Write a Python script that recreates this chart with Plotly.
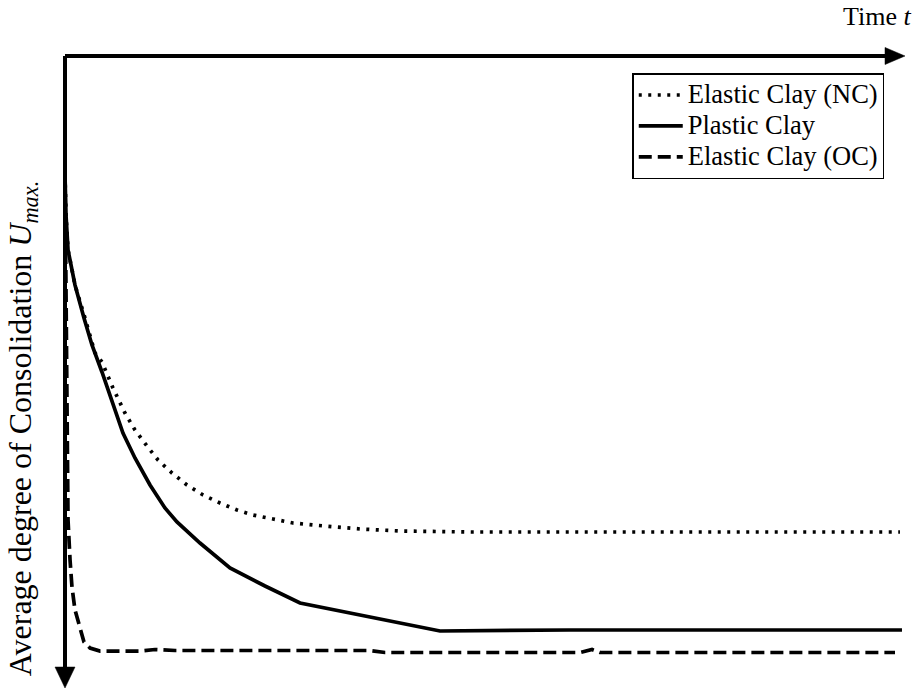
import plotly.graph_objects as go

# Time (arbitrary units, 0-100) and degree of consolidation (arbitrary units, increasing downward)
plastic_t = [0, 0.12, 0.36, 1.19, 2.26, 3.21, 4.40, 5.71, 6.90, 8.33, 10.12, 11.90, 13.33,
             16.07, 19.64, 23.81, 27.98, 36.31, 44.64, 60.0, 80.0, 99.64]
plastic_u = [18.83, 25.16, 30.70, 36.23, 41.46, 45.73, 50.0, 55.22, 59.65, 63.61, 67.88, 71.52, 73.73,
             77.06, 81.01, 83.86, 86.55, 88.77, 90.98, 90.82, 90.82, 90.82]

nc_t = [0, 0.12, 0.36, 1.19, 2.38, 3.57, 4.40, 5.71, 7.14, 8.33, 9.76, 11.07, 12.74, 14.52,
        16.43, 18.45, 20.48, 22.38, 24.76, 27.14, 29.52, 31.90, 35.12, 39.88, 48.57, 70.0, 99.40]
nc_u = [18.83, 25.16, 30.70, 36.23, 41.46, 46.99, 48.42, 52.53, 56.49, 59.18, 61.71, 63.92, 65.98, 67.88,
        69.46, 70.73, 71.84, 72.63, 73.26, 73.89, 74.21, 74.53, 74.84, 75.16, 75.32, 75.32, 75.32]

oc_t = [0, 0.12, 0.24, 0.36, 0.60, 0.83, 1.19, 1.79, 2.26, 2.98, 4.17, 8.93, 10.71, 13.10,
        36.31, 38.10, 61.31, 62.74, 63.69, 98.81]
oc_u = [18.83, 38.61, 62.34, 73.42, 79.75, 84.02, 87.66, 90.82, 92.72, 93.67, 94.15, 94.15, 93.91, 94.07,
        94.07, 94.38, 94.38, 93.91, 94.38, 94.38]

series_names = ["Elastic Clay (NC)", "Plastic Clay", "Elastic Clay (OC)"]
x_title = "Time <i>t</i>"
y_title = "Average degree of Consolidation <i>U</i><sub><i>max.</i></sub>"

FONT = "Liberation Serif, Times New Roman, serif"
LW = 3.7


def big(s):
    return "<span style='font-size:26.5px'>" + s + "</span>"


fig = go.Figure()
fig.add_trace(go.Scatter(x=nc_t, y=nc_u, mode="lines", name=big(series_names[0]),
                         line=dict(color="black", width=LW, dash="3px,6.5px")))
fig.add_trace(go.Scatter(x=plastic_t, y=plastic_u, mode="lines", name=big(series_names[1]),
                         line=dict(color="black", width=LW)))
fig.add_trace(go.Scatter(x=oc_t, y=oc_u, mode="lines", name=big(series_names[2]),
                         line=dict(color="black", width=LW, dash="13px,6px")))

# axis arrows (drawn in data space)
ax_style = dict(color="black", width=4)
fig.add_shape(type="line", x0=0, y0=0, x1=97.62, y1=0, line=ax_style, layer="above")
fig.add_shape(type="path", path="M 97.62 -1.35 L 100 0 L 97.62 1.35 Z",
              fillcolor="black", line=dict(color="black", width=0.5), layer="above")
fig.add_shape(type="line", x0=0, y0=0, x1=0, y1=96.68, line=ax_style, layer="above")
fig.add_shape(type="path", path="M -1.19 96.68 L 0 100 L 1.19 96.68 Z",
              fillcolor="black", line=dict(color="black", width=0.5), layer="above")

fig.add_annotation(text=x_title, xref="paper", yref="paper", x=1.0094, y=1.0355,
                   xanchor="right", yanchor="middle", showarrow=False,
                   font=dict(family=FONT, size=26, color="black"))
fig.add_annotation(text=y_title, xref="paper", yref="paper", x=-0.0327, y=0.401,
                   xanchor="center", yanchor="middle", textangle=-90, showarrow=False,
                   font=dict(family=FONT, size=32, color="black"))

fig.update_layout(
    width=916, height=688,
    margin=dict(l=50, r=11, t=40, b=0),
    paper_bgcolor="white", plot_bgcolor="white",
    xaxis=dict(range=[-1.786, 100], visible=False),
    yaxis=dict(range=[100, -2.53], visible=False),
    showlegend=True,
    legend=dict(x=0.681, y=0.949, xanchor="left", yanchor="top",
                bgcolor="white", bordercolor="black", borderwidth=1.5,
                font=dict(family=FONT, size=21.5, color="black"),
                itemwidth=44, tracegroupgap=0),
)

# remove the default 8px page margin so the figure sits at the window origin
fig.write_html("out.html", config={"displayModeBar": False},
               post_script="document.body.style.margin='0';document.body.style.overflow='hidden';")
